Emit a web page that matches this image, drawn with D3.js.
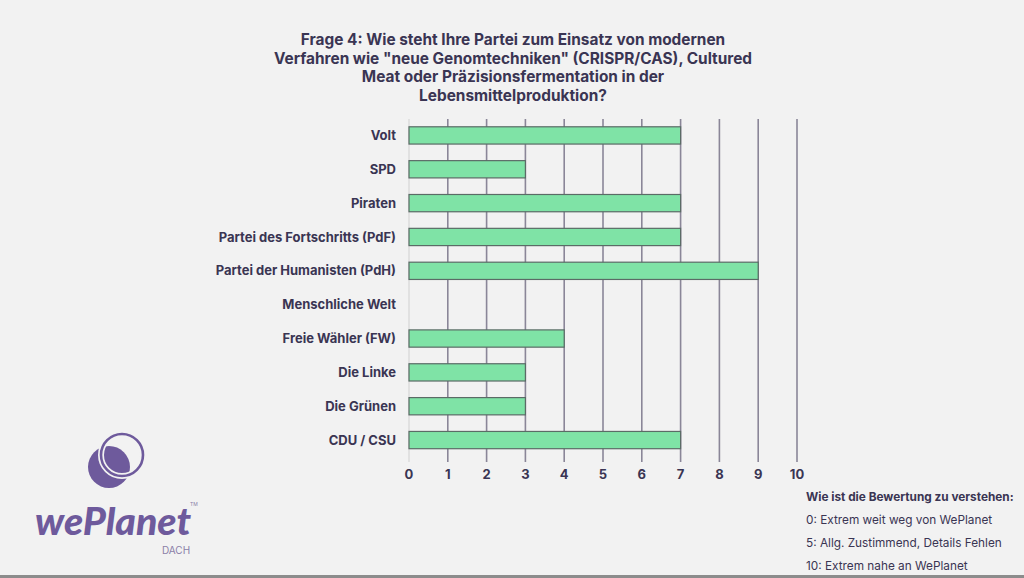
<!DOCTYPE html>
<html>
<head>
<meta charset="utf-8">
<script src="https://cdn.jsdelivr.net/npm/d3@7"></script>
<style>
	html, body { margin: 0; padding: 0; background: #f2f2f2; }
	svg { display: block; font-family: 'Inter', 'Noto Sans', sans-serif; }
</style>
</head>
<body>
<div id="chart"></div>
<script>
// Parties (top to bottom) and their score 0-10
const parties = ['Volt', 'SPD', 'Piraten', 'Partei des Fortschritts (PdF)', 'Partei der Humanisten (PdH)',
	'Menschliche Welt', 'Freie Wähler (FW)', 'Die Linke', 'Die Grünen', 'CDU / CSU'];
const scores = [7, 3, 7, 7, 9, 0, 4, 3, 3, 7];
const ticks = [0, 1, 2, 3, 4, 5, 6, 7, 8, 9, 10];
const titleLines = ['Frage 4: Wie steht Ihre Partei zum Einsatz von modernen',
	'Verfahren wie "neue Genomtechniken" (CRISPR/CAS), Cultured',
	'Meat oder Präzisionsfermentation in der',
	'Lebensmittelproduktion?'];
const legendLines = ['Wie ist die Bewertung zu verstehen:', '0: Extrem weit weg von WePlanet',
	'5: Allg. Zustimmend, Details Fehlen', '10: Extrem nahe an WePlanet'];

const width = 1024, height = 578;
const textColor = '#3a3553';
const purple = '#6e5a9c';

const svg = d3.select('#chart').append('svg')
	.attr('width', width)
	.attr('height', height)
	.attr('viewBox', [0, 0, width, height]);

svg.append('rect').attr('width', width).attr('height', height).attr('fill', '#f2f2f2');
svg.append('rect').attr('x', 0).attr('y', 575).attr('width', width).attr('height', 3).attr('fill', '#8c8c8c');

// Title
svg.append('g')
	.selectAll('text')
	.data(titleLines)
	.enter()
	.append('text')
	.attr('x', 513)
	.attr('y', (d, i) => 45 + i * 18.5)
	.attr('text-anchor', 'middle')
	.style('font-size', '15.4px')
	.style('font-weight', 'bold')
	.style('fill', textColor)
	.text((d) => d);

// Scales
const x = d3.scaleLinear().domain([0, 10]).range([409, 797]);
const y = d3.scaleBand().domain(parties).range([118.5, 457]).paddingInner(0.49).paddingOuter(0.245);

const rows = parties.map((p, i) => ({ party: p, score: scores[i] }));

// Grid lines
svg.append('g')
	.selectAll('line')
	.data(ticks)
	.enter()
	.append('line')
	.attr('x1', (d) => x(d))
	.attr('x2', (d) => x(d))
	.attr('y1', 119)
	.attr('y2', 462)
	.attr('stroke', (d) => (d === 0 ? '#dcdcdc' : '#8a8698'))
	.attr('stroke-width', 1.6);

// Bars
svg.append('g')
	.selectAll('rect')
	.data(rows.filter((d) => d.score > 0))
	.enter()
	.append('rect')
	.attr('x', x(0))
	.attr('y', (d) => y(d.party))
	.attr('width', (d) => x(d.score) - x(0))
	.attr('height', y.bandwidth())
	.attr('fill', '#7fe3a6')
	.attr('stroke', '#5b6b66')
	.attr('stroke-width', 1.2);

// Category labels
svg.append('g')
	.selectAll('text')
	.data(parties)
	.enter()
	.append('text')
	.attr('x', 396)
	.attr('y', (d) => y(d) + y.bandwidth() / 2)
	.attr('dy', '0.35em')
	.attr('text-anchor', 'end')
	.style('font-size', '13px')
	.style('font-weight', 'bold')
	.style('fill', textColor)
	.text((d) => d);

// X tick labels
svg.append('g')
	.selectAll('text')
	.data(ticks)
	.enter()
	.append('text')
	.attr('x', (d) => x(d))
	.attr('y', 474)
	.attr('dy', '0.35em')
	.attr('text-anchor', 'middle')
	.style('font-size', '13px')
	.style('font-weight', 'bold')
	.style('fill', textColor)
	.text((d) => d);

// Legend notes
svg.append('g')
	.selectAll('text')
	.data(legendLines)
	.enter()
	.append('text')
	.attr('x', 806)
	.attr('y', (d, i) => 497 + i * 23)
	.attr('dy', '0.35em')
	.style('font-size', '11.8px')
	.style('font-weight', (d, i) => (i === 0 ? 'bold' : 'normal'))
	.style('fill', textColor)
	.text((d) => d);

// Logo
const logo = svg.append('g');
logo.append('circle').attr('cx', 109).attr('cy', 467).attr('r', 21).attr('fill', purple);
logo.append('circle').attr('cx', 122).attr('cy', 455).attr('r', 21)
	.attr('fill', 'none').attr('stroke', '#f2f2f2').attr('stroke-width', 6);
logo.append('circle').attr('cx', 122).attr('cy', 455).attr('r', 21)
	.attr('fill', 'none').attr('stroke', purple).attr('stroke-width', 2.6);
logo.append('text')
	.attr('x', 35)
	.attr('y', 535)
	.attr('textLength', 156)
	.attr('lengthAdjust', 'spacingAndGlyphs')
	.style('font-family', 'Lato, sans-serif')
	.style('font-size', '38px')
	.style('font-weight', '900')
	.style('font-style', 'italic')
	.style('fill', purple)
	.text('wePlanet');
logo.append('text')
	.attr('x', 176)
	.attr('y', 554)
	.attr('text-anchor', 'middle')
	.style('font-size', '10px')
	.style('fill', '#8a80a8')
	.text('DACH');
logo.append('text')
	.attr('x', 190)
	.attr('y', 506)
	.style('font-size', '5px')
	.style('fill', '#8a80a8')
	.text('TM');
</script>
</body>
</html>
